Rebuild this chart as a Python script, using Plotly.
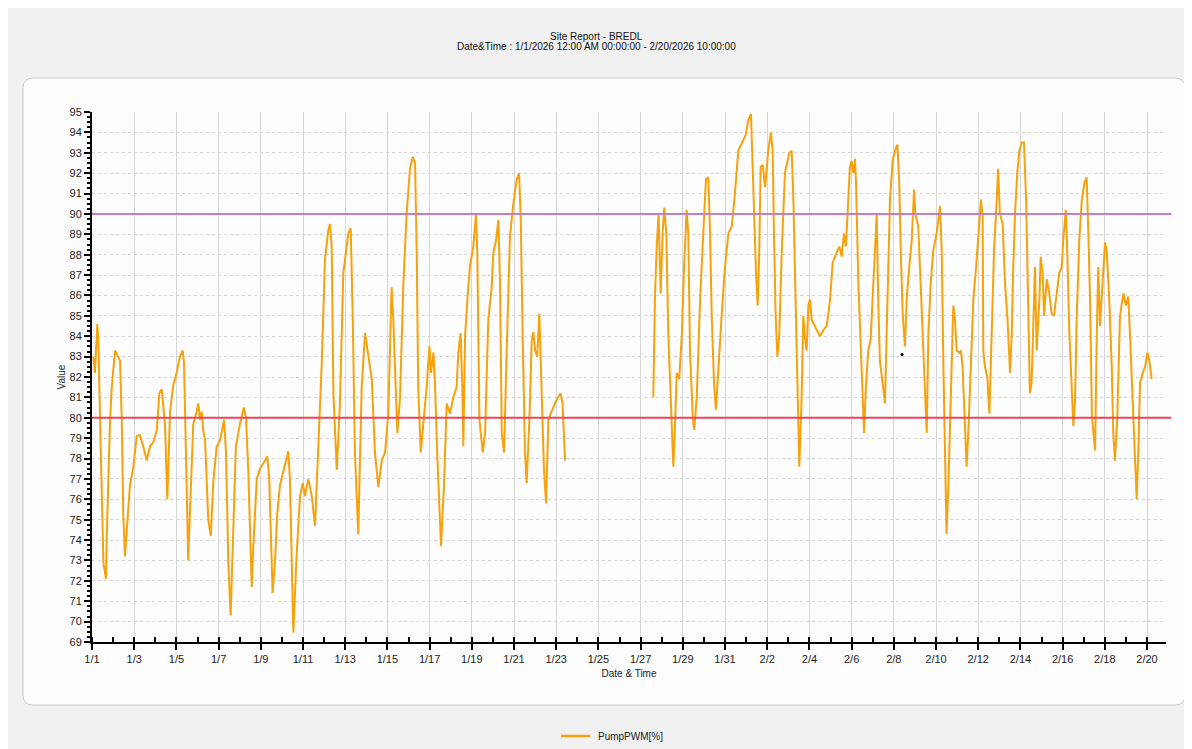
import pandas as pd
import plotly.graph_objects as go

# days since 1/1/2026 00:00
seg1_days = [0.06, 0.14, 0.25, 0.30, 0.38, 0.46, 0.54, 0.66, 0.70, 0.85, 0.93, 1.09, 1.25, 1.33, 1.41, 1.48, 1.56,
             1.72, 1.80, 1.96, 2.12, 2.27, 2.43, 2.59, 2.75, 2.91, 3.07, 3.19, 3.30, 3.38, 3.46, 3.57, 3.70, 3.85,
             4.01, 4.17, 4.30, 4.36, 4.45, 4.56, 4.64, 4.80, 4.96, 5.04, 5.12, 5.20, 5.27, 5.36, 5.51, 5.63, 5.75,
             5.91, 6.07, 6.26, 6.35, 6.46, 6.57, 6.70, 6.82, 7.01, 7.20, 7.30, 7.41, 7.57, 7.64, 7.81, 7.96, 8.20,
             8.31, 8.40, 8.56, 8.67, 8.78, 8.91, 9.07, 9.30, 9.38, 9.54, 9.70, 9.86, 9.99, 10.09, 10.25, 10.41,
             10.57, 10.73, 10.89, 11.04, 11.20, 11.28, 11.36, 11.44, 11.60, 11.75, 11.91, 12.15, 12.26, 12.36,
             12.46, 12.62, 12.78, 12.94, 13.09, 13.26, 13.41, 13.57, 13.73, 13.89, 14.04, 14.20, 14.28, 14.36,
             14.47, 14.60, 14.75, 14.91, 15.07, 15.20, 15.31, 15.39, 15.46, 15.58, 15.70, 15.86, 15.99, 16.07,
             16.18, 16.26, 16.36, 16.54, 16.68, 16.81, 16.97, 17.12, 17.28, 17.36, 17.47, 17.55, 17.60, 17.68,
             17.83, 17.91, 18.07, 18.20, 18.26, 18.36, 18.52, 18.63, 18.78, 18.94, 19.02, 19.15, 19.26, 19.34,
             19.42, 19.53, 19.65, 19.81, 19.97, 20.13, 20.24, 20.32, 20.41, 20.52, 20.60, 20.73, 20.84, 20.92,
             21.00, 21.10, 21.20, 21.31, 21.42, 21.52, 21.63, 21.74, 21.86, 22.02, 22.21, 22.30, 22.42]
seg1_vals = [83.0, 82.2, 84.6, 83.8, 80.0, 76.3, 72.9, 72.1, 74.2, 79.7, 81.4, 83.3, 83.0, 82.8, 79.9, 75.3, 73.2,
             75.6, 76.7, 77.6, 79.1, 79.15, 78.6, 77.9, 78.6, 78.8, 79.4, 81.2, 81.4, 80.6, 79.6, 76.0, 80.3, 81.6,
             82.2, 83.0, 83.3, 82.7, 78.6, 73.0, 75.3, 79.7, 80.3, 80.7, 79.9, 80.3, 79.4, 78.9, 75.0, 74.2, 76.9,
             78.6, 78.9, 79.9, 78.3, 72.9, 70.3, 75.3, 78.6, 79.7, 80.5, 80.0, 77.3, 71.7, 73.6, 77.0, 77.5, 77.9,
             78.1, 77.0, 71.4, 72.9, 75.3, 76.7, 77.4, 78.35, 77.0, 69.45, 73.3, 76.15, 76.8, 76.15, 77.0, 76.2,
             74.7, 78.6, 82.7, 87.75, 89.2, 89.5, 88.4, 81.2, 77.45, 80.7, 87.1, 89.05, 89.3, 84.8,
             78.3, 74.3, 81.5, 84.15, 83.2, 81.9, 78.3, 76.6, 77.9, 78.3, 80.2, 86.4, 84.8, 82.35,
             79.25, 81.0, 86.4, 90.0, 92.2, 92.8, 92.5, 88.1, 81.5, 78.3, 79.6, 81.5, 83.5, 82.2,
             83.2, 81.5, 78.3, 73.7, 76.6, 80.7, 80.2, 81.0, 81.5, 83.2, 84.15, 81.5, 78.6, 84.0,
             86.4, 87.4, 88.4, 90.0, 88.1, 79.9, 78.3, 79.25, 84.8, 86.4, 88.1, 88.7, 89.7, 86.4,
             79.25, 78.3, 83.2, 88.9, 90.5, 91.7, 92.0, 89.7, 84.0, 78.3, 76.8, 79.9, 83.8, 84.2,
             83.3, 83.0, 85.1, 81.5, 77.45, 75.8, 79.9, 80.2, 80.5, 80.9, 81.2, 80.7, 77.9]

seg2_days = [26.60, 26.68, 26.76, 26.85, 26.93, 26.95, 27.05, 27.12, 27.22, 27.31, 27.43, 27.55, 27.63, 27.71,
             27.83, 27.95, 28.06, 28.18, 28.26, 28.34, 28.47, 28.54, 28.66, 28.82, 28.97, 29.10, 29.21, 29.29,
             29.37, 29.48, 29.57, 29.68, 29.84, 30.00, 30.16, 30.32, 30.47, 30.63, 30.87, 30.99, 31.10, 31.23,
             31.31, 31.39, 31.47, 31.55, 31.62, 31.69, 31.79, 31.90, 32.05, 32.17, 32.26, 32.32, 32.40, 32.48,
             32.57, 32.69, 32.84, 33.05, 33.16, 33.24, 33.32, 33.40, 33.47, 33.52, 33.63, 33.71, 33.79, 33.87,
             33.95, 34.03, 34.11, 34.35, 34.50, 34.66, 34.82, 34.98, 35.10, 35.29, 35.42, 35.53, 35.64, 35.73,
             35.80, 35.92, 36.00, 36.08, 36.16, 36.21, 36.32, 36.43, 36.53, 36.59, 36.68, 36.79, 36.90, 37.03,
             37.11, 37.19, 37.26, 37.34, 37.47, 37.58, 37.66, 37.74, 37.82, 37.95, 38.06, 38.17, 38.26, 38.33,
             38.42, 38.53, 38.61, 38.73, 38.85, 38.96, 39.02, 39.16, 39.27, 39.37, 39.48, 39.56, 39.64, 39.75,
             39.87, 40.03, 40.19, 40.27, 40.35, 40.43, 40.50, 40.58, 40.66, 40.74, 40.82, 40.90, 40.98, 41.10,
             41.18, 41.26, 41.37, 41.45, 41.53, 41.64, 41.77, 41.90, 42.00, 42.13, 42.21, 42.24, 42.32, 42.43,
             42.53, 42.64, 42.75, 42.88, 42.94, 43.03, 43.16, 43.27, 43.38, 43.51, 43.59, 43.66, 43.74, 43.85,
             43.95, 44.06, 44.17, 44.27, 44.37, 44.45, 44.53, 44.61, 44.69, 44.77, 44.90, 44.96, 45.06, 45.12,
             45.25, 45.37, 45.48, 45.59, 45.72, 45.84, 45.96, 46.03, 46.15, 46.22, 46.32, 46.43, 46.51, 46.59,
             46.67, 46.79, 46.91, 47.03, 47.14, 47.22, 47.30, 47.39, 47.54, 47.62, 47.69, 47.77, 47.90, 48.01,
             48.09, 48.21, 48.33, 48.40, 48.48, 48.59, 48.72, 48.88, 49.00, 49.11, 49.19, 49.32, 49.43, 49.51,
             49.59, 49.67, 49.80, 49.91, 50.02, 50.11, 50.22]
seg2_vals = [81.0, 85.9, 88.3, 90.0, 87.0, 86.1, 89.2, 90.3, 89.0, 84.2, 80.9, 77.6, 79.6, 82.2,
             81.9, 84.0, 87.4, 90.2, 89.0, 83.3, 80.06, 79.4, 81.0, 85.8, 89.05, 91.7, 91.8, 89.05,
             85.0, 81.7, 80.4, 82.5, 85.0, 87.4, 89.05, 89.4, 91.0, 93.1, 93.6, 93.9, 94.6, 94.9,
             92.3, 89.05, 87.1, 85.5, 88.0, 92.3, 92.4, 91.3, 93.1, 94.0, 93.1, 89.05, 85.0, 83.0,
             84.0, 88.2, 92.0, 93.0, 93.1, 90.7, 86.6, 83.3, 80.06, 77.6, 80.9, 85.0, 83.9, 83.3,
             85.5, 85.8, 84.8, 84.3, 84.0, 84.3, 84.5, 85.8, 87.6, 88.1, 88.4, 87.9, 89.05, 88.4,
             90.0, 92.3, 92.6, 92.0, 92.7, 91.5, 86.6, 83.3, 80.9, 79.25, 81.6, 83.3, 83.8, 86.4,
             87.7, 90.0, 85.8, 82.8, 81.7, 80.7, 84.1, 88.2, 90.7, 92.65, 93.1, 93.4, 91.5, 88.2,
             85.1, 83.5, 85.8, 87.4, 88.7, 91.2, 90.0, 89.4, 86.6, 84.15, 81.7, 79.25, 84.15, 86.6,
             88.2, 89.05, 90.4, 88.2, 82.5, 77.6, 74.3, 76.5, 79.25, 82.5, 85.5, 84.8, 83.3, 83.2,
             83.3, 82.5, 80.06, 77.6, 79.25, 82.5, 85.8, 87.4, 88.7, 90.7, 89.9, 83.3, 82.5, 82.0,
             80.2, 84.15, 88.2, 90.7, 92.2, 90.0, 89.5, 86.6, 85.0, 82.2, 84.15, 87.4, 89.9, 92.0,
             93.1, 93.5, 93.5, 90.7, 85.8, 81.2, 81.7, 85.0, 87.4, 83.3, 85.8, 87.9, 87.0, 85.0,
             86.8, 86.1, 85.1, 85.0, 86.1, 87.1, 87.4, 88.7, 90.2, 88.2, 84.15, 81.7, 79.6, 80.9,
             85.0, 88.7, 90.7, 91.5, 91.8, 89.05, 85.8, 80.06, 78.4, 84.15, 87.4, 84.5, 87.1, 88.6,
             88.2, 85.8, 82.5, 79.25, 77.9, 80.0, 85.0, 86.1, 85.5, 85.95, 84.15, 80.9, 77.6, 76.0,
             78.4, 81.7, 82.2, 82.5, 83.2, 82.8, 81.9]

dot_days = [38.39]
dot_vals = [83.1]

limit_high = 90
limit_low = 80

base = pd.Timestamp("2026-01-01")


def to_time(days):
    return list(base + pd.to_timedelta(days, unit="D"))


x = to_time(seg1_days) + [None] + to_time(seg2_days)
y = seg1_vals + [None] + seg2_vals

# the page puts the figure 8px in from the top-left corner
OFF = 8
W, H = 1192 - OFF, 749 - OFF
L, R, T, B = 92 - OFF, 1166 - OFF, 112 - OFF, 642 - OFF


def px(xp):
    return (xp - OFF - L) / (R - L)


def py(yp):
    return (B - (yp - OFF)) / (B - T)


LINE_COLOR = "#F5A20C"

fig = go.Figure()
fig.add_trace(go.Scatter(
    x=x, y=y, mode="lines", name="PumpPWM[%]",
    line=dict(color=LINE_COLOR, width=2),
    connectgaps=False, showlegend=False,
))
fig.add_trace(go.Scatter(
    x=to_time(dot_days), y=dot_vals, mode="markers", showlegend=False,
    marker=dict(color="black", size=3),
))

# rounded panel behind the chart
x0, x1, y0, y1, r = 23, 1185, 78, 705, 10
path = (f"M {px(x0 + r)},{py(y0)} L {px(x1 - r)},{py(y0)} Q {px(x1)},{py(y0)} {px(x1)},{py(y0 + r)} "
        f"L {px(x1)},{py(y1 - r)} Q {px(x1)},{py(y1)} {px(x1 - r)},{py(y1)} "
        f"L {px(x0 + r)},{py(y1)} Q {px(x0)},{py(y1)} {px(x0)},{py(y1 - r)} "
        f"L {px(x0)},{py(y0 + r)} Q {px(x0)},{py(y0)} {px(x0 + r)},{py(y0)} Z")
fig.add_shape(type="path", path=path, xref="paper", yref="paper", layer="below",
              fillcolor="#FDFDFD", line=dict(color="#C9C9C9", width=1))

fig.add_shape(type="line", xref="paper", yref="y", x0=0, x1=1.005, y0=limit_high, y1=limit_high,
              line=dict(color="#C27FC6", width=2))
fig.add_shape(type="line", xref="paper", yref="y", x0=0, x1=1.005, y0=limit_low, y1=limit_low,
              line=dict(color="#EE4455", width=2))

# legend drawn by hand so it does not push the margins
fig.add_shape(type="line", xref="paper", yref="paper", x0=px(561), x1=px(590), y0=py(736), y1=py(736),
              line=dict(color=LINE_COLOR, width=2.5))

font = "Liberation Sans, Arial, sans-serif"

fig.update_layout(
    width=W, height=H,
    margin=dict(l=L, r=W - R, t=T, b=H - B),
    paper_bgcolor="#F0F0F0",
    plot_bgcolor="rgba(0,0,0,0)",
    font=dict(family=font, size=11, color="#222222"),
    showlegend=False,
    annotations=[
        dict(text="Site Report - BREDL", xref="paper", yref="paper", x=px(596), y=py(36),
             xanchor="center", yanchor="middle", showarrow=False, font=dict(size=10, color="#111111")),
        dict(text="Date&Time : 1/1/2026 12:00 AM 00:00:00 - 2/20/2026 10:00:00", xref="paper", yref="paper",
             x=px(596), y=py(46), xanchor="center", yanchor="middle", showarrow=False,
             font=dict(size=10, color="#111111")),
        dict(text="PumpPWM[%]", xref="paper", yref="paper", x=px(596), y=py(736),
             xanchor="left", yanchor="middle", showarrow=False, font=dict(size=10, color="#222222")),
    ],
)

fig.update_xaxes(
    type="date", range=[base, base + pd.Timedelta(days=50.9)],
    tick0=base, dtick=2 * 86400000, tickformat="%-m/%-d",
    ticks="outside", ticklen=6, tickwidth=2, tickcolor="black",
    showline=True, linecolor="black", linewidth=2,
    showgrid=True, gridcolor="#D6D6D6", gridwidth=1,
    minor=dict(dtick=86400000, ticks="inside", ticklen=5, tickwidth=2, tickcolor="black", showgrid=False),
    title=dict(text="Date & Time", font=dict(size=10), standoff=6),
    zeroline=False, automargin=False,
)
fig.update_yaxes(
    range=[69, 95], dtick=1, tick0=69,
    ticks="outside", ticklen=6, tickwidth=2, tickcolor="black",
    showline=True, linecolor="black", linewidth=2,
    showgrid=True, gridcolor="#D6D6D6", griddash="dot", gridwidth=1,
    minor=dict(dtick=0.25, ticks="outside", ticklen=3, tickwidth=1.5, tickcolor="black", showgrid=False),
    title=dict(text="Value", font=dict(size=10), standoff=2),
    zeroline=False, automargin=False,
)

fig.write_html("out.html")
